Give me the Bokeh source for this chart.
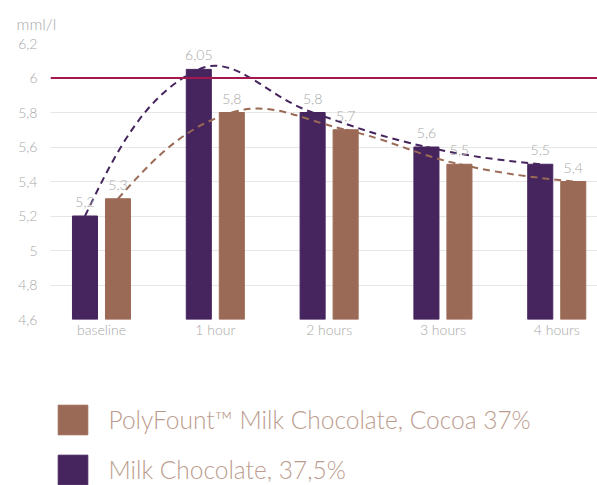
from bokeh.plotting import figure
from bokeh.layouts import column
from bokeh.models import Range1d, FixedTicker, Legend, LegendItem, ColumnDataSource, Span
from bokeh.core.properties import value
from bokeh.embed import file_html
from bokeh.resources import INLINE
import math

categories = ["baseline", "1 hour", "2 hours", "3 hours", "4 hours"]
milk_choc = [5.2, 6.05, 5.8, 5.6, 5.5]
polyfount = [5.3, 5.8, 5.7, 5.5, 5.4]
y_ticks = [4.6, 4.8, 5.0, 5.2, 5.4, 5.6, 5.8, 6.0, 6.2]
y_tick_labels = ["4,6", "4,8", "5", "5,2", "5,4", "5,6", "5,8", "6", "6,2"]
reference_level = 6.0
unit_label = "mml/l"
series_names = ["PolyFount\u2122 Milk Chocolate, Cocoa 37%", "Milk Chocolate, 37,5%"]

PURPLE = "#46245e"
BROWN = "#9b6a56"
RED = "#a3194f"
GRAY = "#a8a8a8"
LEG_TXT = "#bc9c8e"
FONT_NAME = "Lato Light"
FONT = value(FONT_NAME)

OFF = 0.145
W = 0.22
XR = (-0.448, 4.358)
YR = (4.6, 6.2)
FRAME_W, FRAME_H = 547, 276
XS = FRAME_W / (XR[1] - XR[0])
YS = FRAME_H / (YR[1] - YR[0])

p = figure(width=597, height=345, output_backend="svg", toolbar_location=None,
           x_range=Range1d(*XR), y_range=Range1d(*YR),
           min_border_left=50, min_border_right=0, min_border_top=43, min_border_bottom=26)
p.outline_line_color = None
p.xgrid.grid_line_color = None
p.ygrid.grid_line_color = "#e6e6e6"
p.ygrid.grid_line_width = 1

p.title.text = unit_label
p.title.align = "left"
p.title.offset = -34
p.title.standoff = 21
p.title.text_font = FONT_NAME
p.title.text_font_style = "normal"
p.title.text_font_size = "16px"
p.title.text_color = GRAY

xs = list(range(len(categories)))
xp = [x - OFF for x in xs]
xb = [x + OFF for x in xs]

src = ColumnDataSource(dict(xp=xp, xb=xb, mc=milk_choc, pf=polyfount,
                            mcl=[str(v).replace(".", ",") for v in milk_choc],
                            pfl=[str(v).replace(".", ",") for v in polyfount]))

rp = p.vbar(x="xp", top="mc", bottom=YR[0], width=W, source=src, fill_color=PURPLE, line_color=PURPLE)
rb = p.vbar(x="xb", top="pf", bottom=YR[0], width=W, source=src, fill_color=BROWN, line_color=BROWN)

p.add_layout(Span(location=reference_level, dimension="width", line_color=RED, line_width=2))


def smooth(xv, yv, k=0.4):
    # smoothed-line rendering: cubic Bezier segments through the data points
    n = len(xv)
    d = [math.hypot((xv[i + 1] - xv[i]) * XS, (yv[i + 1] - yv[i]) * YS) for i in range(n - 1)]
    left, right = [None] * n, [None] * n
    for i in range(1, n - 1):
        tx, ty = xv[i + 1] - xv[i - 1], yv[i + 1] - yv[i - 1]
        s = d[i - 1] + d[i]
        fl, fr = k * d[i - 1] / s, k * d[i] / s
        left[i] = (xv[i] - tx * fl, yv[i] - ty * fl)
        right[i] = (xv[i] + tx * fr, yv[i] + ty * fr)
    right[0] = (xv[0] + (left[1][0] - xv[0]) * 0.5, yv[0] + (left[1][1] - yv[0]) * 0.5)
    left[n - 1] = (xv[-1] + (right[n - 2][0] - xv[-1]) * 0.5, yv[-1] + (right[n - 2][1] - yv[-1]) * 0.5)
    seg = dict(x0=xv[:-1], y0=yv[:-1], x1=xv[1:], y1=yv[1:],
               cx0=[right[i][0] for i in range(n - 1)], cy0=[right[i][1] for i in range(n - 1)],
               cx1=[left[i + 1][0] for i in range(n - 1)], cy1=[left[i + 1][1] for i in range(n - 1)])
    return seg


p.bezier(source=ColumnDataSource(smooth(xp, milk_choc)), x0="x0", y0="y0", x1="x1", y1="y1",
         cx0="cx0", cy0="cy0", cx1="cx1", cy1="cy1", line_color=PURPLE, line_width=2, line_dash="7 5")
p.bezier(source=ColumnDataSource(smooth(xb, polyfount)), x0="x0", y0="y0", x1="x1", y1="y1",
         cx0="cx0", cy0="cy0", cx1="cx1", cy1="cy1", line_color=BROWN, line_width=2, line_dash="7 5")

p.text(x="xp", y="mc", text="mcl", source=src, text_align="center", text_baseline="middle",
       y_offset=-14, text_font=FONT, text_font_size="14px", text_color=GRAY)
p.text(x="xb", y="pf", text="pfl", source=src, text_align="center", text_baseline="middle",
       y_offset=-14, text_font=FONT, text_font_size="14px", text_color=GRAY)

p.xaxis.ticker = FixedTicker(ticks=xs)
p.xaxis.major_label_overrides = {i: c for i, c in zip(xs, categories)}
p.yaxis.ticker = FixedTicker(ticks=y_ticks)
p.yaxis.major_label_overrides = {t: l for t, l in zip(y_ticks, y_tick_labels)}
for ax in (p.xaxis[0], p.yaxis[0]):
    ax.axis_line_color = None
    ax.major_tick_line_color = None
    ax.minor_tick_line_color = None
    ax.major_tick_out = 0
    ax.major_tick_in = 0
    ax.minor_tick_out = 0
    ax.major_label_text_color = GRAY
    ax.major_label_text_font = FONT_NAME
    ax.major_label_text_font_size = "14px"
p.xaxis.major_label_standoff = 1
p.yaxis.major_label_standoff = 13

# legend panel below the chart (dummy renderers sit outside the visible range)
lg = figure(width=597, height=140, output_backend="svg", toolbar_location=None,
            x_range=Range1d(0, 1), y_range=Range1d(0, 1),
            x_axis_type=None, y_axis_type=None,
            min_border_left=0, min_border_right=0, min_border_top=0, min_border_bottom=0)
lg.outline_line_color = None
lg.xgrid.grid_line_color = None
lg.ygrid.grid_line_color = None
lb = lg.vbar(x=[-5], top=[-5], bottom=[-6], width=0.1, fill_color=BROWN, line_color=BROWN)
lpu = lg.vbar(x=[-5], top=[-5], bottom=[-6], width=0.1, fill_color=PURPLE, line_color=PURPLE)
legend = Legend(items=[LegendItem(label=series_names[0], renderers=[lb]),
                       LegendItem(label=series_names[1], renderers=[lpu])],
                location=(3.5, -3), orientation="vertical",
                glyph_width=37, glyph_height=37, label_standoff=18, spacing=13,
                padding=0, margin=0, border_line_color=None, background_fill_alpha=0,
                label_text_font=FONT_NAME, label_text_font_size="24.5px",
                label_text_color=LEG_TXT, label_height=37)
lg.add_layout(legend, "center")

layout = column(p, lg, spacing=0)
open("out.html", "w").write(file_html(layout, INLINE))
